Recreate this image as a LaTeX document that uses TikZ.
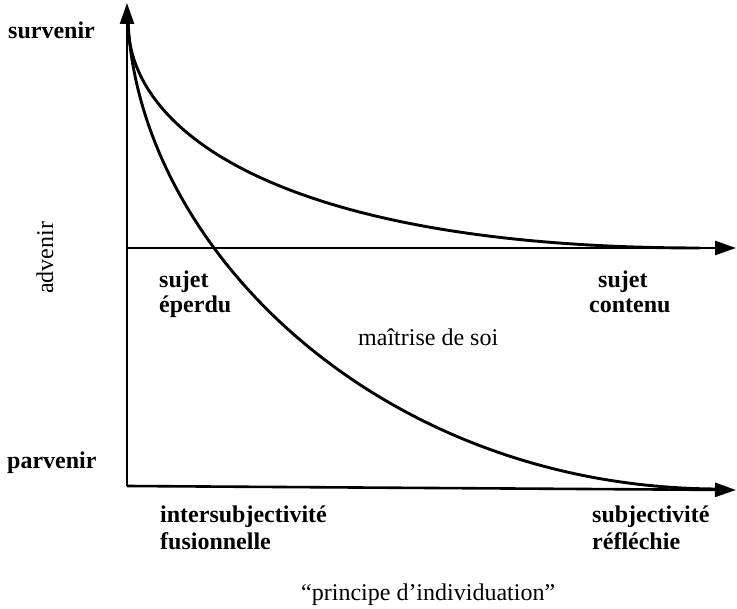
\documentclass[tikz,border=0pt]{standalone}
\usepackage{fontspec}
\setmainfont{Liberation Serif}
\usetikzlibrary{arrows.meta}
\tikzset{
  axis/.style={line width=2.6pt,-{Triangle[length=21pt,width=14pt]}},
  curve/.style={line width=2.9pt},
  lbl/.style={inner sep=0pt,anchor=base west,font=\fontsize{24}{27}\selectfont\bfseries},
  txt/.style={inner sep=0pt,anchor=base west,font=\fontsize{24}{27}\selectfont},
}
\begin{document}
\begin{tikzpicture}[x=1pt,y=-1pt]
\useasboundingbox (0,0) rectangle (737,609);
% named points
\coordinate (O) at (127,486);
\coordinate (Ytop) at (127,3);
\coordinate (Ml) at (127,248);
\coordinate (Mr) at (736,248);
\coordinate (Br) at (736,490);
\coordinate (S) at (128,22);
\coordinate (Ue) at (700,248);
\coordinate (Le) at (716,489);
% axes
\draw[axis] (O) -- (Ytop);
\draw[axis] (Ml) -- (Mr);
\draw[axis] (O) -- (Br);
% curves
\draw[curve] (S) .. controls (128,140) and (300,248) .. (Ue);
\draw[curve] (S) .. controls (140,250) and (380,487) .. (Le);
% labels
\node[lbl] (surv) at (8,39) {survenir};
\node[lbl] (parv) at (7,469) {parvenir};
\node[txt,anchor=center,rotate=90] (adv) at (45,258) {advenir};
\node[lbl] (sj1) at (159,288) {sujet};
\node[lbl] (sj1b) at (159,313) {éperdu};
\node[lbl] (sj2) at (598,288) {sujet};
\node[lbl] (sj2b) at (589,313) {contenu};
\node[txt] (mai) at (358,346) {maîtrise de soi};
\node[lbl] (int1) at (160,523) {intersubjectivité};
\node[lbl] (int2) at (160,550) {fusionnelle};
\node[lbl] (sub1) at (592,523) {subjectivité};
\node[lbl] (sub2) at (592,550) {réfléchie};
\node[txt] (pri) at (301,601) {“principe d’individuation”};
\end{tikzpicture}
\end{document}
